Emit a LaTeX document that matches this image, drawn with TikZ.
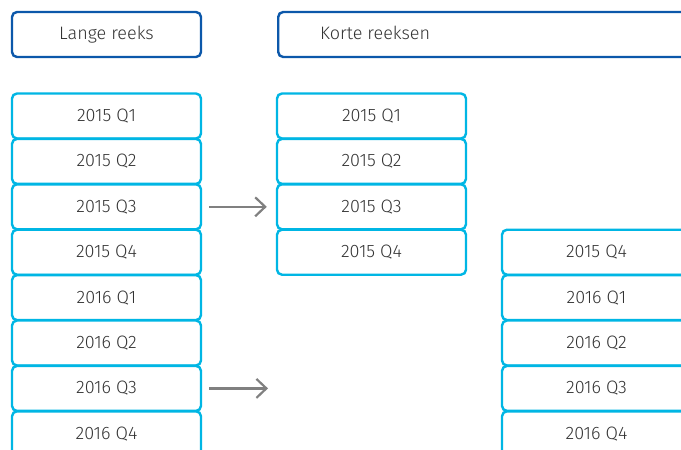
\documentclass[tikz,border=0pt]{standalone}
\usepackage{fontspec}
\setmainfont{Fira Sans}[UprightFont={* Light}]
\usetikzlibrary{arrows.meta}
\definecolor{cyanline}{RGB}{0,182,228}
\definecolor{headline}{RGB}{12,88,170}
\definecolor{txt}{RGB}{51,51,51}
\definecolor{arrowgray}{RGB}{128,128,128}
\tikzset{
  labeltext/.style={text=txt, font=\fontsize{18}{20}\selectfont},
  period/.style={labeltext, draw=cyanline, line width=2.4pt, rounded corners=5pt, fill=white,
    minimum width=189pt, minimum height=45pt, inner sep=0pt},
  header/.style={labeltext, draw=headline, line width=2.4pt, rounded corners=5pt, fill=white,
    minimum height=45pt, inner sep=0pt},
  flow/.style={draw=arrowgray, line width=2.2pt,
    -{Straight Barb[length=10pt, width=19pt, line width=2.2pt]}}
}
\begin{document}
\begin{tikzpicture}[x=1pt, y=-1pt]
\useasboundingbox (0,0) rectangle (681,450);
\clip (0,0) rectangle (681,450);
% column headers
\node[header, minimum width=189pt] (hl) at (106.5,34.5) {Lange reeks};
\node[header, minimum width=420pt, anchor=west] (hk) at (277,34.5) {};
\coordinate (kx) at (320,0);
\node[labeltext, anchor=base west, inner sep=0pt] (hkt) at (hl.base -| kx) {Korte reeksen};
% long series
\foreach \lab [count=\i from 0] in {2015 Q1,2015 Q2,2015 Q3,2015 Q4,2016 Q1,2016 Q2,2016 Q3,2016 Q4}
  \node[period] (L\i) at (106.5,116+45.4*\i) {\lab};
% first short series
\foreach \lab [count=\i from 0] in {2015 Q1,2015 Q2,2015 Q3,2015 Q4}
  \node[period] (A\i) at (371.5,116+45.4*\i) {\lab};
% second short series
\foreach \lab [count=\i from 3] in {2015 Q4,2016 Q1,2016 Q2,2016 Q3,2016 Q4}
  \node[period] (B\i) at (596.5,116+45.4*\i) {\lab};
% arrows
\coordinate (t6) at (277,116+45.4*6);
\draw[flow, shorten <=7pt, shorten >=9pt] (L2.east) -- (A2.west);
\draw[flow, shorten <=7pt, shorten >=9pt] (L6.east) -- (t6);
\end{tikzpicture}
\end{document}
